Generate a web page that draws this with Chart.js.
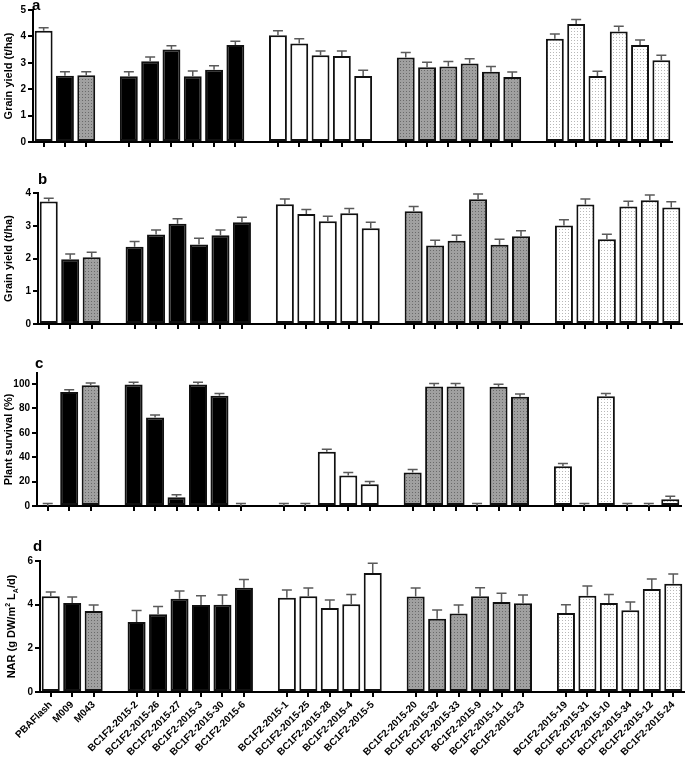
<!DOCTYPE html>
<html>
<head>
<meta charset="utf-8">
<script src="https://cdn.jsdelivr.net/npm/chart.js@4.4.1/dist/chart.umd.min.js"></script>
<style>
  body { margin: 0; background: #fff; }
  #wrap { position: relative; width: 685px; height: 758px; overflow: hidden; }
  .panel { position: absolute; left: 0; width: 685px; }
  .letter { position: absolute; font: bold 15px "Liberation Sans", Arial, sans-serif; line-height: 15px; color: #000; }
</style>
</head>
<body>
<div id="wrap">
  <div class="panel" style="top:0;height:150px"><canvas id="chartA"></canvas></div>
  <div class="panel" style="top:150px;height:182px"><canvas id="chartB"></canvas></div>
  <div class="panel" style="top:332px;height:182px"><canvas id="chartC"></canvas></div>
  <div class="panel" style="top:514px;height:244px"><canvas id="chartD"></canvas></div>
  <div class="letter" style="left:32px;top:-3px">a</div>
  <div class="letter" style="left:38px;top:171px">b</div>
  <div class="letter" style="left:35px;top:355px">c</div>
  <div class="letter" style="left:33px;top:538px">d</div>
</div>
<script>
// categories ('' = gap between groups)
const labels = [
	"PBAFlash", "M009", "M043", "",
	"BC1F2-2015-2", "BC1F2-2015-26", "BC1F2-2015-27", "BC1F2-2015-3", "BC1F2-2015-30", "BC1F2-2015-6", "",
	"BC1F2-2015-1", "BC1F2-2015-25", "BC1F2-2015-28", "BC1F2-2015-4", "BC1F2-2015-5", "",
	"BC1F2-2015-20", "BC1F2-2015-32", "BC1F2-2015-33", "BC1F2-2015-9", "BC1F2-2015-11", "BC1F2-2015-23", "",
	"BC1F2-2015-19", "BC1F2-2015-31", "BC1F2-2015-10", "BC1F2-2015-34", "BC1F2-2015-12", "BC1F2-2015-24",
];
// fill kind per bar: w = white, k = black, g = grey dotted, d = light dotted
const fillKinds = [
	"w", "k", "g", "",
	"k", "k", "k", "k", "k", "k", "",
	"w", "w", "w", "w", "w", "",
	"g", "g", "g", "g", "g", "g", "",
	"d", "d", "d", "d", "d", "d",
];

// a: grain yield (t/ha)
const yieldA = [4.21, 2.51, 2.53, null, 2.49, 3.06, 3.50, 2.49, 2.74, 3.67, null, 4.04, 3.73, 3.29, 3.26, 2.50, null, 3.20, 2.83, 2.86, 2.97, 2.66, 2.46, null, 3.91, 4.47, 2.50, 4.19, 3.67, 3.10];
const errA = [0.12, 0.15, 0.13, null, 0.17, 0.16, 0.15, 0.20, 0.15, 0.15, null, 0.17, 0.18, 0.16, 0.19, 0.22, null, 0.19, 0.19, 0.19, 0.18, 0.20, 0.19, null, 0.18, 0.17, 0.18, 0.19, 0.19, 0.19];
// b: grain yield (t/ha)
const yieldB = [3.74, 1.98, 2.04, null, 2.36, 2.73, 3.06, 2.43, 2.71, 3.11, null, 3.66, 3.36, 3.14, 3.38, 2.92, null, 3.44, 2.40, 2.54, 3.81, 2.42, 2.68, null, 3.01, 3.65, 2.59, 3.59, 3.78, 3.56];
const errB = [0.10, 0.16, 0.15, null, 0.16, 0.14, 0.15, 0.19, 0.16, 0.15, null, 0.16, 0.14, 0.15, 0.15, 0.19, null, 0.15, 0.16, 0.17, 0.16, 0.17, 0.17, null, 0.17, 0.17, 0.15, 0.16, 0.16, 0.17];
// c: plant survival (%)
const survivalC = [0, 93.4, 98.9, null, 99.5, 72.6, 7.1, 99.5, 90.4, 0, null, 0, 0, 44.4, 25.0, 17.8, null, 27.4, 98.0, 98.0, 0, 97.8, 89.6, null, 32.6, 0, 89.9, 0, 0, 5.5];
const errC = [2, 1.9, 1.9, null, 1.9, 1.9, 2.2, 1.9, 1.9, 2, null, 2, 2, 2.2, 2.4, 2.2, null, 2.5, 2.3, 2.3, 2, 1.9, 2.2, null, 2.2, 2, 2.4, 2, 2, 2.4];
// d: net assimilation rate
const narD = [4.38, 4.08, 3.71, null, 3.21, 3.56, 4.27, 3.98, 4.00, 4.78, null, 4.32, 4.38, 3.85, 4.02, 5.45, null, 4.37, 3.36, 3.59, 4.38, 4.12, 4.06, null, 3.62, 4.41, 4.08, 3.74, 4.72, 4.96];
const errD = [0.20, 0.27, 0.27, null, 0.52, 0.36, 0.36, 0.43, 0.44, 0.37, null, 0.35, 0.38, 0.36, 0.44, 0.45, null, 0.39, 0.40, 0.39, 0.40, 0.40, 0.38, null, 0.38, 0.44, 0.38, 0.38, 0.46, 0.44];

Chart.defaults.font.family = "'Liberation Sans', Arial, sans-serif";
Chart.defaults.font.weight = "bold";
Chart.defaults.font.size = 10;
Chart.defaults.color = "#000";

// dotted fill patterns
function makePattern(bg, dot) {
	const c = document.createElement("canvas");
	c.width = 3;
	c.height = 3;
	const p = c.getContext("2d");
	p.fillStyle = bg;
	p.fillRect(0, 0, 3, 3);
	p.fillStyle = dot;
	p.fillRect(1, 1, 1, 1);
	return p.createPattern(c, "repeat");
}
const fills = {
	w: "#ffffff",
	k: "#000000",
	g: makePattern("#a0a0a0", "#6a6a6a"),
	d: makePattern("#ffffff", "#b8b8b8"),
};

// error bars (upper whisker only)
const errorBarPlugin = {
	id: "errorBars",
	afterDatasetsDraw(chart) {
		const ctx = chart.ctx;
		const errs = chart.options.plugins.errorBars.errors;
		const yScale = chart.scales.y;
		const meta = chart.getDatasetMeta(0);
		ctx.save();
		ctx.strokeStyle = "#5a5a5a";
		ctx.lineWidth = 1.5;
		meta.data.forEach(function (bar, i) {
			const v = chart.data.datasets[0].data[i];
			if (v === null || errs[i] === null) return;
			const yTop = yScale.getPixelForValue(v + errs[i]);
			ctx.beginPath();
			ctx.moveTo(bar.x, bar.y);
			ctx.lineTo(bar.x, yTop);
			ctx.moveTo(bar.x - 5, yTop);
			ctx.lineTo(bar.x + 5, yTop);
			ctx.stroke();
		});
		ctx.restore();
	},
};

// y title with superscript / subscript for panel d
const narTitlePlugin = {
	id: "narTitle",
	afterDraw(chart) {
		if (!chart.options.plugins.narTitle.show) return;
		const ctx = chart.ctx;
		const a = chart.chartArea;
		const parts = [
			["NAR (g DW/m", 11, 0],
			["2", 7, -5],
			[" L", 11, 0],
			["A", 7, 3],
			["/d)", 11, 0],
		];
		let total = 0;
		parts.forEach(function (p) {
			ctx.font = "bold " + p[1] + "px 'Liberation Sans', Arial, sans-serif";
			total += ctx.measureText(p[0]).width;
		});
		ctx.save();
		ctx.translate(15, (a.top + a.bottom) / 2);
		ctx.rotate(-Math.PI / 2);
		ctx.fillStyle = "#000";
		ctx.textBaseline = "alphabetic";
		let x = -total / 2;
		parts.forEach(function (p) {
			ctx.font = "bold " + p[1] + "px 'Liberation Sans', Arial, sans-serif";
			ctx.fillText(p[0], x, p[2]);
			x += ctx.measureText(p[0]).width;
		});
		ctx.restore();
	},
};

function makePanel(id, values, errors, cfg) {
	const ctx = document.getElementById(id).getContext("2d");
	return new Chart(ctx, {
		type: "bar",
		data: {
			labels: labels,
			datasets: [
				{
					data: values,
					backgroundColor: fillKinds.map((k) => fills[k] || "#fff"),
					borderColor: "#111",
					borderWidth: 2,
					borderSkipped: false,
					categoryPercentage: 1,
					barPercentage: 0.84,
				},
			],
		},
		options: {
			responsive: true,
			maintainAspectRatio: false,
			animation: false,
			layout: { padding: { top: cfg.top, right: 685 - cfg.right, left: 0, bottom: 0 } },
			plugins: {
				legend: { display: false },
				tooltip: { enabled: false },
				errorBars: { errors: errors },
				narTitle: { show: !!cfg.narTitle },
			},
			scales: {
				x: {
					offset: true,
					grid: {
						offset: false,
						drawOnChartArea: false,
						drawTicks: true,
						tickLength: 5,
						lineWidth: 2,
						tickColor: (c) => (labels[c.index] ? "#000" : "rgba(0,0,0,0)"),
					},
					border: { display: true, color: "#000", width: 2 },
					ticks: {
						display: !!cfg.showLabels,
						autoSkip: false,
						maxRotation: 45,
						minRotation: 45,
						padding: 2,
						font: { size: 10, weight: "bold" },
					},
					afterFit(scale) {
						scale.height = cfg.xHeight;
						scale.paddingLeft = 0;
						scale.paddingRight = 0;
					},
				},
				y: {
					min: 0,
					max: cfg.max,
					ticks: { stepSize: cfg.step, padding: 2, font: { size: 10, weight: "bold" } },
					afterBuildTicks(scale) {
						scale.ticks = scale.ticks.filter((t) => t.value % cfg.step === 0);
					},
					grid: {
						drawOnChartArea: false,
						drawTicks: true,
						tickLength: 5,
						lineWidth: 2,
						tickColor: "#000",
					},
					border: { display: true, color: "#000", width: 2 },
					title: {
						display: !!cfg.title,
						text: cfg.title || "",
						font: { size: 11, weight: "bold" },
						padding: { top: 2, bottom: 2 },
					},
					afterFit(scale) {
						scale.width = cfg.left;
					},
				},
			},
		},
		plugins: [errorBarPlugin, narTitlePlugin],
	});
}

makePanel("chartA", yieldA, errA, { top: 10, left: 33, right: 672, xHeight: 8, max: 5, step: 1, title: "Grain yield (t/ha)" });
makePanel("chartB", yieldB, errB, { top: 43, left: 38, right: 682, xHeight: 8, max: 4, step: 1, title: "Grain yield (t/ha)" });
makePanel("chartC", survivalC, errC, { top: 41, left: 37, right: 681, xHeight: 8, max: 109, step: 20, title: "Plant survival (%)" });
makePanel("chartD", narD, errD, { top: 47, left: 40, right: 684, xHeight: 66, max: 6, step: 2, narTitle: true, showLabels: true });
</script>
</body>
</html>
